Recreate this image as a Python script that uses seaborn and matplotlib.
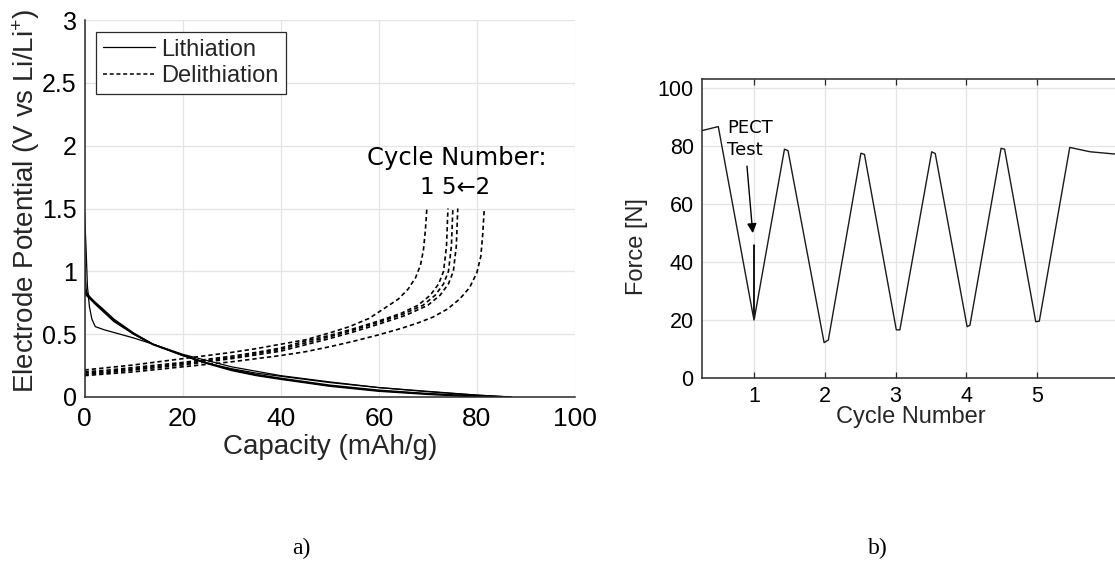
import matplotlib
matplotlib.use('Agg')
import matplotlib.pyplot as plt
from matplotlib.lines import Line2D
import seaborn as sns

# ---- panel a) : potential vs capacity ----
# lithiation (solid), one list per cycle
cap_lith_1 = [0, 0.3, 0.6, 1.0, 1.5, 2.2, 4, 6.3, 10, 14, 20, 25, 30, 40, 50, 60, 70, 80, 87]
pot_lith_1 = [1.47, 1.2, 0.88, 0.72, 0.62, 0.56, 0.535, 0.51, 0.47, 0.42, 0.34, 0.29, 0.24, 0.17, 0.12, 0.075, 0.045, 0.015, 0.0]
cap_lith_2 = [0, 0.15, 0.4, 1, 2, 3.5, 6, 10, 14, 20, 25, 30, 35, 40, 50, 60, 70, 80, 85]
pot_lith_2 = [1.22, 0.95, 0.84, 0.80, 0.76, 0.71, 0.62, 0.51, 0.42, 0.335, 0.27, 0.215, 0.175, 0.145, 0.09, 0.05, 0.025, 0.008, 0.0]
cap_lith_3 = [0, 0.3, 1, 2, 3.5, 6, 10, 14, 20, 25, 30, 35, 40, 50, 60, 70, 78, 82]
pot_lith_3 = [0.86, 0.83, 0.80, 0.76, 0.70, 0.61, 0.50, 0.415, 0.33, 0.265, 0.21, 0.17, 0.14, 0.085, 0.045, 0.02, 0.004, 0.0]
cap_lith_4 = [0, 0.3, 1, 2, 3.5, 6, 10, 14, 20, 25, 30, 35, 40, 50, 60, 70, 80, 86]
pot_lith_4 = [0.85, 0.82, 0.79, 0.75, 0.70, 0.61, 0.505, 0.42, 0.335, 0.27, 0.22, 0.18, 0.15, 0.095, 0.055, 0.028, 0.008, 0.0]
cap_lith_5 = [0, 0.3, 1, 2, 3.5, 6, 10, 14, 20, 25, 30, 35, 40, 50, 60, 70, 80, 87]
pot_lith_5 = [0.84, 0.81, 0.785, 0.745, 0.69, 0.60, 0.50, 0.42, 0.33, 0.27, 0.225, 0.19, 0.165, 0.115, 0.075, 0.042, 0.015, 0.0]

# delithiation (dashed)
cap_delith_1 = [0, 5, 10, 15, 20, 25, 30, 35, 40, 45, 50, 54, 58, 61.5, 64, 66, 67.5, 68.5, 69.1, 69.5, 69.8]
pot_delith_1 = [0.215, 0.235, 0.255, 0.28, 0.305, 0.33, 0.355, 0.385, 0.42, 0.455, 0.51, 0.56, 0.625, 0.715, 0.78, 0.86, 0.95, 1.05, 1.17, 1.33, 1.5]
cap_delith_2 = [0, 5, 10, 15, 20, 25, 30, 35, 40, 45, 50, 55, 60, 64.5, 68, 71, 74, 76.5, 78.5, 80, 80.8, 81.2, 81.5]
pot_delith_2 = [0.17, 0.185, 0.2, 0.22, 0.24, 0.26, 0.28, 0.305, 0.33, 0.36, 0.40, 0.445, 0.495, 0.545, 0.59, 0.635, 0.70, 0.78, 0.87, 0.99, 1.12, 1.3, 1.5]
cap_delith_3 = [0, 5, 10, 15, 20, 25, 30, 35, 40, 45, 50, 55, 60, 64.5, 68, 70.5, 72.2, 73.2, 73.8, 74.1]
pot_delith_3 = [0.20, 0.215, 0.235, 0.255, 0.275, 0.30, 0.325, 0.355, 0.39, 0.445, 0.49, 0.545, 0.605, 0.665, 0.73, 0.81, 0.90, 1.0, 1.2, 1.5]
cap_delith_4 = [0, 5, 10, 15, 20, 25, 30, 35, 40, 45, 50, 55, 60, 65, 69, 71.5, 73.2, 74.2, 74.8, 75.1]
pot_delith_4 = [0.19, 0.205, 0.225, 0.245, 0.265, 0.29, 0.315, 0.345, 0.38, 0.43, 0.48, 0.535, 0.595, 0.66, 0.73, 0.81, 0.90, 1.0, 1.2, 1.5]
cap_delith_5 = [0, 5, 10, 15, 20, 25, 30, 35, 40, 45, 50, 55, 60, 65.5, 70, 72.5, 74.2, 75.2, 75.8, 76.1]
pot_delith_5 = [0.18, 0.195, 0.215, 0.235, 0.255, 0.28, 0.305, 0.335, 0.365, 0.415, 0.465, 0.52, 0.58, 0.65, 0.73, 0.81, 0.90, 1.0, 1.2, 1.5]

cap_ticks = [0, 20, 40, 60, 80, 100]
cap_tick_labels = ['0', '20', '40', '60', '80', '100']
pot_ticks = [0, 0.5, 1, 1.5, 2, 2.5, 3]
pot_tick_labels = ['0', '0.5', '1', '1.5', '2', '2.5', '3']

# ---- panel b) : force vs cycle ----
cycle_x = [0.265, 0.495, 0.98, 1.0, 1.0, 1.005, 1.03, 1.43, 1.48, 1.99, 2.05, 2.51, 2.56,
           3.01, 3.06, 3.51, 3.56, 4.01, 4.05, 4.49, 4.54, 4.98, 5.03, 5.46, 5.75, 6.2]
force = [85.3, 86.7, 22.5, 20.0, 45.9, 20.5, 24.0, 78.9, 78.4, 12.2, 13.1, 77.5, 77.1,
         16.6, 16.6, 78.0, 77.4, 17.7, 18.2, 79.2, 78.9, 19.4, 19.6, 79.5, 78.0, 77.0]
cycle_ticks = [1, 2, 3, 4, 5]
force_ticks = [0, 20, 40, 60, 80, 100]

sns.set_theme(style='white')
plt.rcParams['font.family'] = ['Liberation Sans', 'DejaVu Sans']
plt.rcParams['mathtext.default'] = 'regular'

fig = plt.figure(figsize=(11.15, 5.63), dpi=100)
grid_col = '#e4e4e4'
spine_col = '#2a2a2a'

# panel a
ax1 = fig.add_axes([84.5 / 1115, 1 - 397 / 563, 490.5 / 1115, 377 / 563])
lith = [(cap_lith_1, pot_lith_1), (cap_lith_2, pot_lith_2), (cap_lith_3, pot_lith_3),
        (cap_lith_4, pot_lith_4), (cap_lith_5, pot_lith_5)]
delith = [(cap_delith_1, pot_delith_1), (cap_delith_2, pot_delith_2), (cap_delith_3, pot_delith_3),
          (cap_delith_4, pot_delith_4), (cap_delith_5, pot_delith_5)]
for x, y in lith:
    sns.lineplot(x=x, y=y, ax=ax1, color='black', lw=0.9, sort=False, estimator=None)
for x, y in delith:
    sns.lineplot(x=x, y=y, ax=ax1, color='black', lw=1.2, linestyle=(0, (2.6, 1.8)),
                 sort=False, estimator=None)

ax1.set_xlim(0, 100)
ax1.set_ylim(0, 3)
ax1.set_xticks(cap_ticks)
ax1.set_xticklabels(cap_tick_labels)
ax1.set_yticks(pot_ticks)
ax1.set_yticklabels(pot_tick_labels)
ax1.grid(True, color=grid_col, lw=0.9)
ax1.set_axisbelow(True)
for s in ['top', 'right']:
    ax1.spines[s].set_visible(False)
for s in ['left', 'bottom']:
    ax1.spines[s].set_color(spine_col)
    ax1.spines[s].set_linewidth(1.1)
ax1.tick_params(axis='x', direction='out', length=4, width=0.9, color=spine_col,
                labelsize=19, pad=3, colors='black')
ax1.tick_params(axis='y', direction='out', length=4, width=0.9, color=spine_col,
                labelsize=18, pad=1.5, colors='black')
ax1.set_xlabel('Capacity (mAh/g)', fontsize=20, labelpad=2)
ax1.set_ylabel('Electrode Potential (V vs Li/Li$^{+}$)', fontsize=20)
ax1.yaxis.set_label_coords(-0.087, 0.52)

handles = [Line2D([], [], color='black', lw=0.9, label='Lithiation'),
           Line2D([], [], color='black', lw=1.1, ls=(0, (2.6, 1.8)), label='Delithiation')]
leg = ax1.legend(handles=handles, loc='upper left', bbox_to_anchor=(0.0234, 0.968),
                 borderaxespad=0, fontsize=17, frameon=True, fancybox=False,
                 edgecolor=spine_col, framealpha=1, handlelength=2.2, handletextpad=0.3,
                 borderpad=0.28, labelspacing=0.18)
leg.get_frame().set_linewidth(0.9)

ax1.text(75.9, 1.90, 'Cycle Number:', family='DejaVu Sans', fontsize=17.5,
         ha='center', va='center', color='black')
ax1.text(75.5, 1.67, '1 5\u21902', family='DejaVu Sans', fontsize=16.5,
         ha='center', va='center', color='black')

# panel b
ax2 = fig.add_axes([702 / 1115, 1 - 378 / 563, 418 / 1115, 299 / 563])
sns.lineplot(x=cycle_x, y=force, ax=ax2, color='#1a1a1a', lw=1.0, sort=False, estimator=None)
ax2.set_xlim(0.265, 6.17)
ax2.set_ylim(0, 103.1)
ax2.set_xticks(cycle_ticks)
ax2.set_yticks(force_ticks)
ax2.grid(True, color=grid_col, lw=0.9)
ax2.set_axisbelow(True)
for s in ['top', 'left', 'bottom', 'right']:
    ax2.spines[s].set_color(spine_col)
    ax2.spines[s].set_linewidth(1.1)
ax2.tick_params(axis='x', direction='in', length=4, width=0.9, color=spine_col,
                top=True, bottom=True, labelsize=15.5, pad=6, colors='black')
ax2.tick_params(axis='y', direction='out', length=4, width=0.9, color=spine_col,
                labelsize=15.5, pad=2, colors='black')
ax2.set_xlabel('Cycle Number', fontsize=17, labelpad=-1)
ax2.set_ylabel('Force [N]', fontsize=17)
ax2.yaxis.set_label_coords(-0.13, 0.44)

ax2.text(0.62, 82.4, 'PECT\nTest', family='DejaVu Sans', fontsize=13,
         ha='left', va='center', linespacing=1.25, color='black')
ax2.annotate('', xy=(0.985, 49.0), xytext=(0.897, 74.0),
             arrowprops=dict(arrowstyle='-|>', color='black', lw=1.0, mutation_scale=14))

fig.text(301 / 1115, 1 - 548 / 563, 'a)', family='Liberation Serif', fontsize=17,
         ha='center', va='center', color='black')
fig.text(878 / 1115, 1 - 548 / 563, 'b)', family='Liberation Serif', fontsize=17,
         ha='center', va='center', color='black')

fig.savefig('out.png', dpi=100)
